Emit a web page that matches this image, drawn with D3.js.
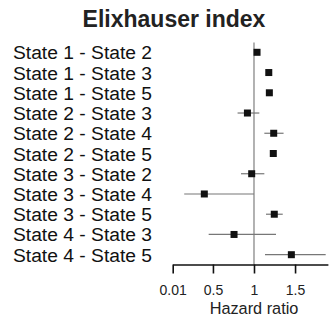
<!DOCTYPE html>
<html><head><meta charset="utf-8">
<script src="https://cdn.jsdelivr.net/npm/d3@7"></script>
<style>body{margin:0;background:#fff}svg{display:block}text{font-family:"Liberation Sans",Arial,sans-serif}</style>
</head><body><svg id="c" width="330" height="319"></svg>
<script>
const labels = ["State 1 - State 2","State 1 - State 3","State 1 - State 5","State 2 - State 3","State 2 - State 4","State 2 - State 5","State 3 - State 2","State 3 - State 4","State 3 - State 5","State 4 - State 3","State 4 - State 5"];
const hr    = [1.037, 1.18, 1.187, 0.92, 1.24, 1.235, 0.972, 0.395, 1.247, 0.757, 1.455];
const lower = [1.02, 1.16, 1.17, 0.80, 1.126, 1.21, 0.842, 0.15, 1.146, 0.448, 1.134];
const upper = [1.055, 1.20, 1.205, 1.065, 1.36, 1.26, 1.126, 1.0, 1.35, 1.268, 1.873];
const ticks = [0.01, 0.5, 1, 1.5];
const tickLabels = ["0.01","0.5","1","1.5"];

const svg = d3.select("#c");
const x = d3.scaleLinear().domain([0.01, 1.9]).range([172.7, 327.9]);
const y = d3.scalePoint().domain(labels).range([52.3, 254.7]);

svg.append("text").attr("x",174).attr("y",26.5).attr("text-anchor","middle")
  .attr("font-size","23px").attr("font-weight","bold").attr("fill","#222").text("Elixhauser index");

svg.append("line").attr("x1",x(1)).attr("x2",x(1)).attr("y1",42.5).attr("y2",264.5)
  .attr("stroke","#999").attr("stroke-width",1.5);

svg.append("g").selectAll("text").data(labels).join("text")
  .attr("x",13).attr("y",d=>y(d)+7).attr("font-size","18px").attr("fill","#111")
  .attr("textLength",139).attr("lengthAdjust","spacingAndGlyphs").text(d=>d);

const rows = labels.map((l,i)=>({l, hr:hr[i], lo:lower[i], up:upper[i]}));
svg.append("g").selectAll("line").data(rows).join("line")
  .attr("x1",d=>x(d.lo)).attr("x2",d=>x(d.up)).attr("y1",d=>y(d.l)).attr("y2",d=>y(d.l))
  .attr("stroke","#777").attr("stroke-width",1.2);
svg.append("g").selectAll("rect").data(rows).join("rect")
  .attr("x",d=>x(d.hr)-3.5).attr("y",d=>y(d.l)-3.5).attr("width",7).attr("height",7).attr("fill","#111");

const ax = svg.append("g").attr("transform","translate(0,264.5)")
  .call(d3.axisBottom(x).tickValues(ticks).tickFormat((d,i)=>tickLabels[i]).tickSize(9).tickSizeOuter(0).tickPadding(12));
ax.select(".domain").attr("stroke","#111").attr("stroke-width",1.6);
ax.selectAll(".tick line").attr("stroke","#111").attr("stroke-width",1.6);
ax.selectAll(".tick text").attr("font-size","14px").attr("fill","#222").attr("font-family","Liberation Sans, Arial, sans-serif");

svg.append("text").attr("x",x(1)).attr("y",314).attr("text-anchor","middle")
  .attr("font-size","16.3px").attr("fill","#222").text("Hazard ratio");
</script></body></html>
